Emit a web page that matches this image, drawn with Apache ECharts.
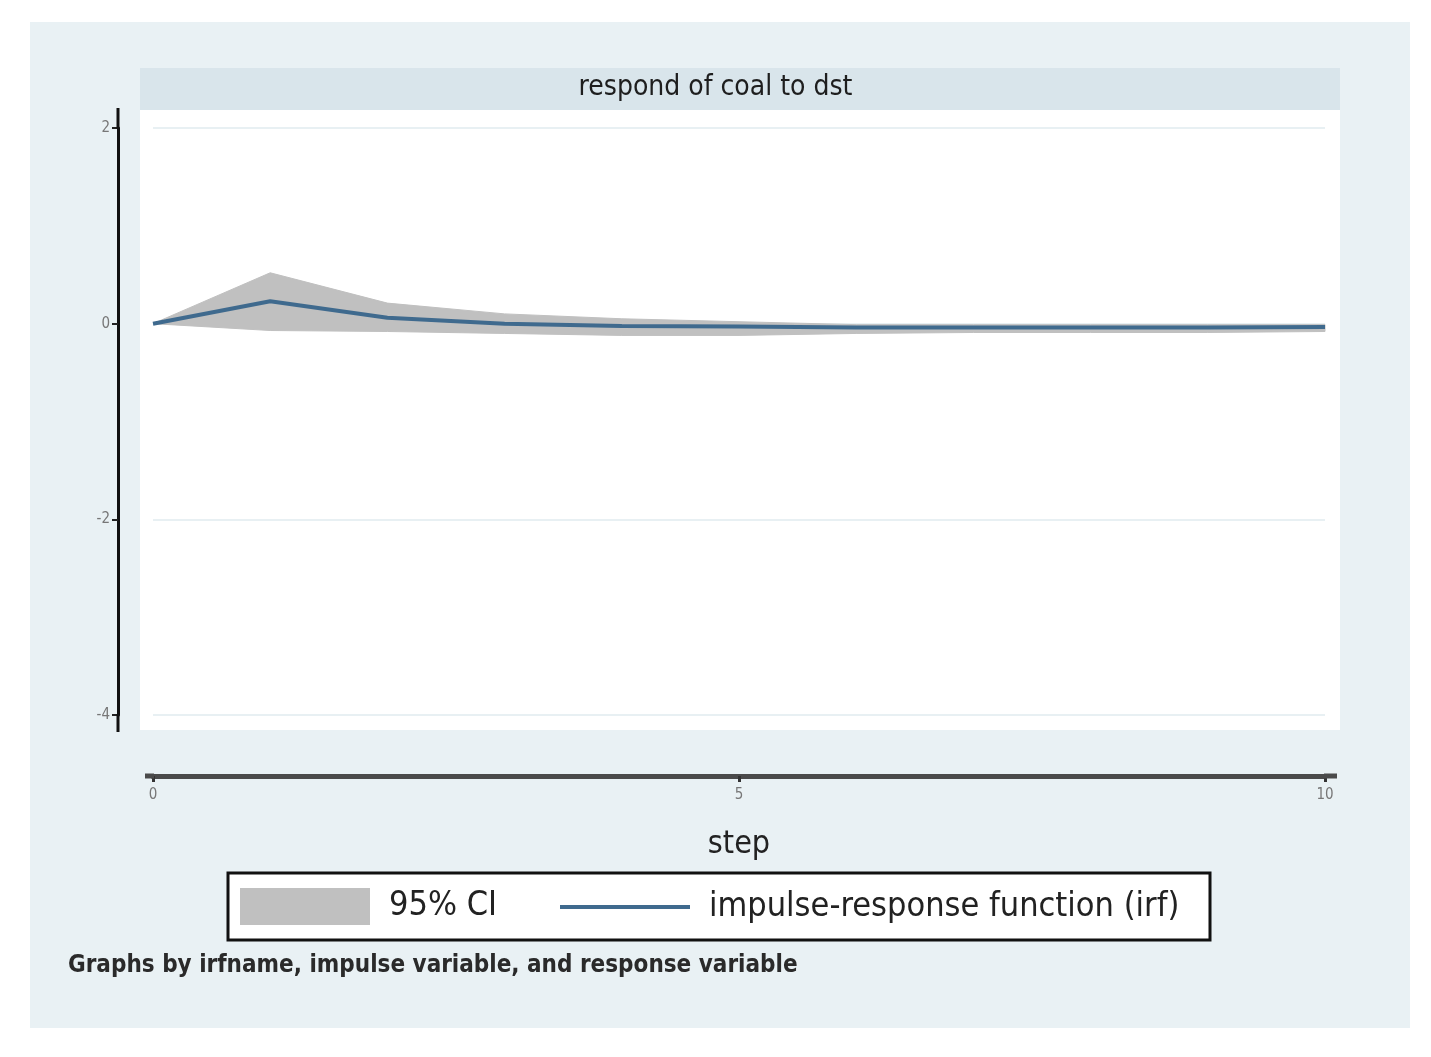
<!DOCTYPE html>
<html>
<head>
<meta charset="utf-8">
<script src="https://cdn.jsdelivr.net/npm/echarts@6/dist/echarts.min.js"></script>
<style>
html,body{margin:0;padding:0;background:#fff;}
#chart{width:1431px;height:1057px;}
</style>
</head>
<body>
<div id="chart"></div>
<script>
const steps = [0,1,2,3,4,5,6,7,8,9,10];
const irf   = [0, 0.23, 0.06, 0.0, -0.025, -0.03, -0.04, -0.04, -0.04, -0.04, -0.035];
const ciUpper = [0, 0.52, 0.21, 0.10, 0.05, 0.02, -0.01, -0.01, -0.01, -0.01, -0.01];
const ciLower = [0, -0.07, -0.08, -0.10, -0.12, -0.12, -0.10, -0.09, -0.09, -0.09, -0.08];
const yTicks = [-4, -2, 0, 2];
const xTicks = [0, 5, 10];
const titleText = 'respond of coal to dst';
const xName = 'step';
const noteText = 'Graphs by irfname, impulse variable, and response variable';
const ciName = '95% CI';
const irfName = 'impulse-response function (irf)';

const FONT = "'Liberation Sans Narrow','DejaVu Sans Condensed','Liberation Sans',sans-serif";
const CI_COLOR = '#c0c0c0';
const IRF_COLOR = '#3f6a8e';

const chart = echarts.init(document.getElementById('chart'), null, {renderer:'canvas'});

function renderBand(params, api) {
  if (params.dataIndex !== 0) return null;
  const upper = steps.map((s,i) => api.coord([s, ciUpper[i]]));
  const lower = steps.map((s,i) => api.coord([s, ciLower[i]])).reverse();
  return {
    type:'polygon',
    shape:{points: upper.concat(lower)},
    style:{fill: CI_COLOR, stroke: CI_COLOR, lineWidth: 1}
  };
}

const legendText = {fontFamily:FONT, fontSize:34, color:'#222', padding:[0,0,0,14]};

const option = {
  backgroundColor: '#ffffff',
  animation: false,
  graphic: [
    {type:'rect', z:-10, shape:{x:30,y:22,width:1380,height:1006}, style:{fill:'#e9f1f4'}},
    {type:'rect', z:-9, shape:{x:140,y:68,width:1200,height:42}, style:{fill:'#d9e5eb'}},
    {type:'rect', z:-9, shape:{x:140,y:110,width:1200,height:620}, style:{fill:'#ffffff'}},
    {type:'line', z:5, shape:{x1:118,y1:108,x2:118,y2:129}, style:{stroke:'#111', lineWidth:3}},
    {type:'line', z:5, shape:{x1:118,y1:714,x2:118,y2:732}, style:{stroke:'#111', lineWidth:3}},
    {type:'line', z:5, shape:{x1:145,y1:776,x2:154,y2:776}, style:{stroke:'#4a4a4a', lineWidth:5}},
    {type:'line', z:5, shape:{x1:1324,y1:776,x2:1337,y2:776}, style:{stroke:'#4a4a4a', lineWidth:5}},
    {type:'rect', z:-8, shape:{x:228,y:873,width:982,height:67}, style:{fill:'#ffffff', stroke:'#111111', lineWidth:3}},
    {type:'text', z:5, left:'center', top:74, style:{text:titleText, font:"28px "+FONT, fill:'#1e1e1e'}},
    {type:'text', z:5, left:68, top:954, style:{text:noteText, font:"bold 24px "+FONT, fill:'#2a2a2a'}}
  ],
  grid: {left:153, right:106, top:128, bottom:1057-715, containLabel:false},
  legend: [
    {
      left: 240, top: 888, padding:0,
      itemWidth:130, itemHeight:37,
      textStyle: legendText,
      data:[{name:ciName, icon:'rect', itemStyle:{color:CI_COLOR}}]
    },
    {
      left: 560, top: 890, padding:0,
      itemWidth:130, itemHeight:4,
      textStyle: legendText,
      data:[{name:irfName, icon:'rect', itemStyle:{color:IRF_COLOR}}]
    }
  ],
  xAxis: {
    type:'value', min:0, max:10, interval:5,
    position:'bottom', offset:61,
    axisLine:{show:true, onZero:false, lineStyle:{color:'#4a4a4a', width:5}},
    axisTick:{show:true, length:6, lineStyle:{color:'#333', width:3}},
    axisLabel:{show:true, color:'#777', fontSize:15, margin:12, fontFamily:FONT,
      formatter: v => xTicks.includes(v) ? String(v) : ''},
    splitLine:{show:false},
    name:xName, nameLocation:'middle', nameGap:53,
    nameTextStyle:{fontSize:32, color:'#222', fontFamily:FONT}
  },
  yAxis: {
    type:'value', min:-4, max:2, interval:2,
    position:'left', offset:35,
    axisLine:{show:true, onZero:false, lineStyle:{color:'#111', width:3}},
    axisTick:{show:true, length:6, lineStyle:{color:'#222', width:2}},
    axisLabel:{show:true, color:'#777', fontSize:15, margin:8, fontFamily:FONT,
      formatter: v => yTicks.includes(v) ? String(v) : ''},
    splitLine:{show:true, lineStyle:{color:'#e8f0f3', width:2}}
  },
  series: [
    {
      name:ciName, type:'custom',
      data: steps.map((s,i)=>[s, ciLower[i], ciUpper[i]]),
      encode:{x:0, y:[1,2]},
      itemStyle:{color:CI_COLOR},
      renderItem: renderBand, z:1, silent:true
    },
    {
      name:irfName, type:'line',
      data: steps.map((s,i)=>[s, irf[i]]),
      symbol:'none', showSymbol:false,
      itemStyle:{color:IRF_COLOR},
      lineStyle:{color:IRF_COLOR, width:4}, z:3
    }
  ]
};
chart.setOption(option);
</script>
</body>
</html>
